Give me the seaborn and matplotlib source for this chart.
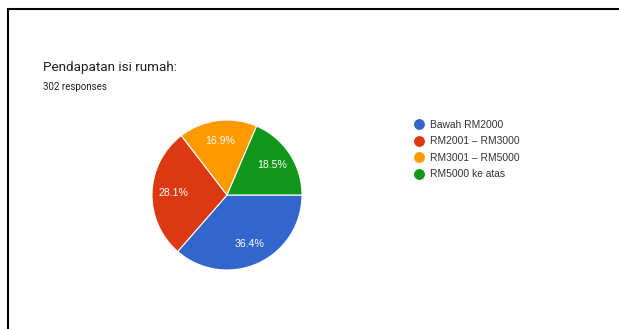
import matplotlib
matplotlib.use("Agg")
import matplotlib.pyplot as plt
from matplotlib.lines import Line2D
import seaborn as sns

# Household income responses
categories = ["Bawah RM2000", "RM2001 – RM3000", "RM3001 – RM5000", "RM5000 ke atas"]
counts = [110, 85, 51, 56]
colors = ["#3366CC", "#DC3912", "#FF9900", "#109618"]
title = "Pendapatan isi rumah:"
subtitle = "302 responses"

sns.set_theme(style="white")
plt.rcParams["font.family"] = ["Liberation Sans", "DejaVu Sans"]

W, H = 619, 329
fig = plt.figure(figsize=(W / 100, H / 100), dpi=100)
fig.patch.set_facecolor("white")

# Pie axes: center (227, 195), radius 75 px
cx, cy, r = 227, 195, 75
ax = fig.add_axes([(cx - r) / W, 1 - (cy + r) / H, 2 * r / W, 2 * r / H])
wedges, texts, autotexts = ax.pie(
    counts,
    colors=colors,
    startangle=0,
    counterclock=False,
    autopct="%.1f%%",
    pctdistance=0.72,
    radius=1,
    wedgeprops=dict(edgecolor="white", linewidth=0.8),
    textprops=dict(color="white", fontsize=7.6),
)
ax.set_xlim(-1, 1)
ax.set_ylim(-1, 1)
ax.set_aspect("equal")
ax.axis("off")

# Title and response count
fig.text(43 / W, 1 - 68 / H, title, fontsize=9.7, color="#212121",
         family=["Roboto", "DejaVu Sans"], va="center", ha="left")
fig.text(43 / W, 1 - 86.5 / H, subtitle, fontsize=7.0, color="#212121",
         family=["Roboto", "DejaVu Sans"], va="center", ha="left")

# Legend with circular markers
handles = [Line2D([0], [0], marker="o", linestyle="", markersize=6.8,
                  markerfacecolor=c, markeredgecolor=c) for c in colors]
fig.legend(handles, categories, loc="upper left",
           bbox_to_anchor=(410 / W, 1 - 115.5 / H), frameon=False,
           fontsize=7.4, handlelength=0.9, handletextpad=0.65,
           labelspacing=0.64, borderaxespad=0, labelcolor="#333333")

# Frame lines along top and left edge
fig.add_artist(Line2D([7.5 / W, 1], [1 - 8.5 / H, 1 - 8.5 / H],
                      transform=fig.transFigure, color="black", linewidth=1.5,
                      solid_capstyle="butt"))
fig.add_artist(Line2D([8 / W, 8 / W], [1 - 7.5 / H, 0],
                      transform=fig.transFigure, color="black", linewidth=1.5,
                      solid_capstyle="butt"))

fig.savefig("out.png", dpi=100, facecolor="white")
